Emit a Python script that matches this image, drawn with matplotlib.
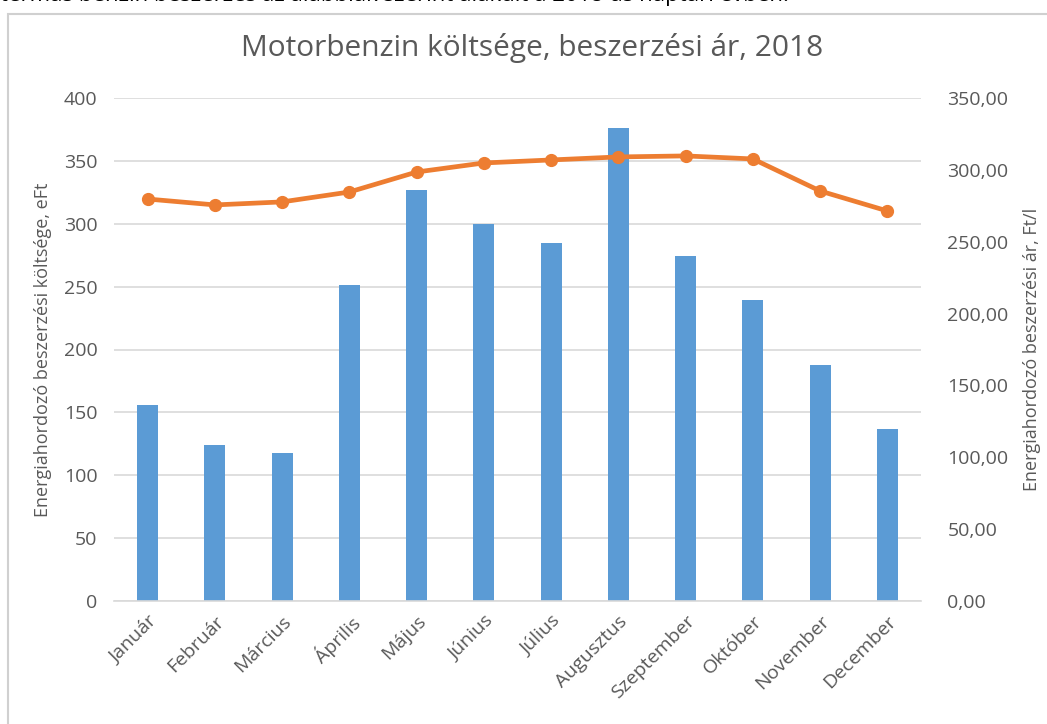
import numpy as np
import matplotlib.pyplot as plt
from matplotlib.patches import Rectangle
from matplotlib.ticker import FuncFormatter

honapok = ['Január', 'Február', 'Március', 'Április', 'Május', 'Június',
           'Július', 'Augusztus', 'Szeptember', 'Október', 'November', 'December']
koltseg = [156, 124, 118, 251, 327, 300, 285, 376, 274, 239, 188, 137]  # eFt
ar = [279.7, 275.6, 277.7, 284.6, 298.5, 304.8, 306.9, 309.0, 309.7, 307.6, 285.3, 271.4]  # Ft/l

plt.rcParams['font.family'] = ['Open Sans', 'DejaVu Sans']
szurke = '#595959'

fig = plt.figure(figsize=(10.47, 7.24), dpi=100)

# kerettel a diagram doboza, felül a levágott szöveg
fig.patches.append(Rectangle((8 / 1047, -0.1), 1.2, 1 - 14 / 724 + 0.1,
                             transform=fig.transFigure, fill=False,
                             edgecolor='#d0d0d0', linewidth=1.5))
fig.text(0.0, 1 + 4 / 724, 'termás benzin beszerzés az alábbiak szerint alakult a 2018-as naptári évben.',
         fontsize=16, color='black', va='center', ha='left')

ax = fig.add_axes([114 / 1047, 1 - 601 / 724, (921 - 114) / 1047, (601 - 98) / 724])
x = np.arange(len(honapok))
ax.bar(x, koltseg, width=0.31, color='#5B9BD5', zorder=2)
ax.set_xlim(-0.5, len(honapok) - 0.5)
ax.set_ylim(0, 400)
ax.set_yticks(range(0, 401, 50))
ax.grid(axis='y', color='#d9d9d9', linewidth=1.2, zorder=0)
ax.set_axisbelow(True)
for s in ['top', 'left', 'right']:
    ax.spines[s].set_visible(False)
ax.spines['bottom'].set_color('#d9d9d9')
ax.spines['bottom'].set_linewidth(1.2)
ax.tick_params(length=0, colors=szurke, labelsize=14, pad=12)
ax.set_xticks(x)
ax.set_xticklabels(honapok, rotation=45, ha='right', rotation_mode='anchor')
ax.tick_params(axis='x', pad=8)
ax.set_ylabel('Energiahordozó beszerzési költsége, eFt', color=szurke, fontsize=13, labelpad=8)

ax2 = ax.twinx()
ax2.plot(x, ar, color='#ED7D31', linewidth=3.4, marker='o', markersize=8.5, zorder=3)
ax2.set_ylim(0, 350)
ax2.set_yticks(range(0, 351, 50))
ax2.yaxis.set_major_formatter(FuncFormatter(lambda v, p: f'{v:.2f}'.replace('.', ',')))
for s in ['top', 'left', 'right', 'bottom']:
    ax2.spines[s].set_visible(False)
ax2.tick_params(length=0, colors=szurke, labelsize=14, pad=19)
ax2.set_ylabel('Energiahordozó beszerzési ár, Ft/l', color=szurke, fontsize=13, labelpad=10)

fig.text(532 / 1047, 1 - 48 / 724, 'Motorbenzin költsége, beszerzési ár, 2018',
         fontsize=21.5, color=szurke, ha='center', va='center')

fig.savefig('out.png', dpi=100)
